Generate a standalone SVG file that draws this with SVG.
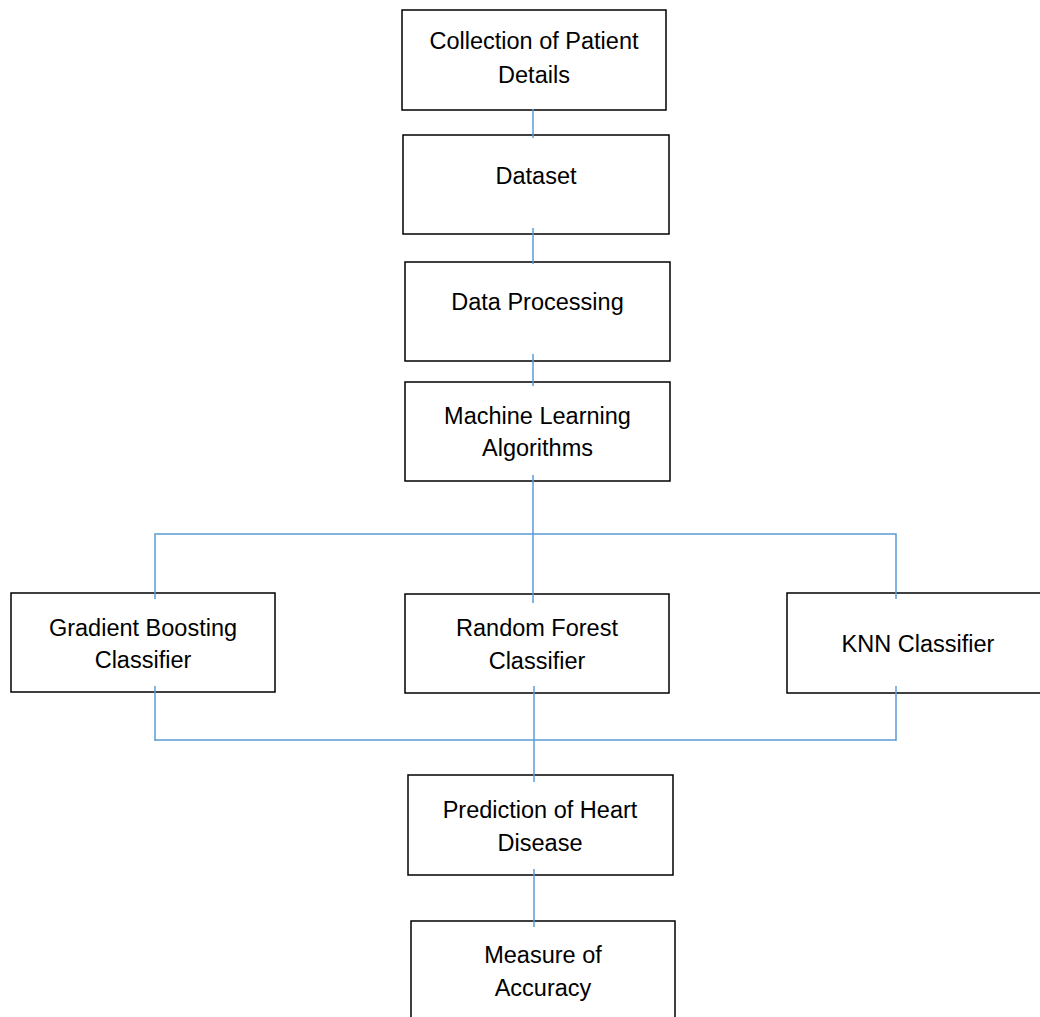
<svg xmlns="http://www.w3.org/2000/svg" width="1040" height="1017" viewBox="0 0 1040 1017">
<style>
.box{fill:#fff;stroke:#000;stroke-width:1.5}
.t{font-family:"Liberation Sans",Arial,sans-serif;font-size:23.5px;fill:#000;text-anchor:middle}
.c{fill:none;stroke:#5B9BD5;stroke-width:1.5}
</style>
<rect width="1040" height="1017" fill="#fff"/>
<g id="n1"><rect class="box" x="402" y="10" width="264" height="100"/>
<text class="t" x="534" y="49">Collection of Patient</text><text class="t" x="534" y="83">Details</text></g>
<g id="n2"><rect class="box" x="403" y="135" width="266" height="99"/>
<text class="t" x="536" y="184">Dataset</text></g>
<g id="n3"><rect class="box" x="405" y="262" width="265" height="99"/>
<text class="t" x="537.5" y="310">Data Processing</text></g>
<g id="n4"><rect class="box" x="405" y="382" width="265" height="99"/>
<text class="t" x="537.5" y="424">Machine Learning</text><text class="t" x="537.5" y="456">Algorithms</text></g>
<g id="n5"><rect class="box" x="11" y="593" width="264" height="99"/>
<text class="t" x="143" y="636">Gradient Boosting</text><text class="t" x="143" y="668">Classifier</text></g>
<g id="n6"><rect class="box" x="405" y="594" width="264" height="99"/>
<text class="t" x="537" y="636">Random Forest</text><text class="t" x="537" y="669">Classifier</text></g>
<g id="n7"><rect class="box" x="787" y="593" width="262" height="100"/>
<text class="t" x="918" y="652">KNN Classifier</text></g>
<g id="n8"><rect class="box" x="408" y="775" width="265" height="100"/>
<text class="t" x="540" y="818">Prediction of Heart</text><text class="t" x="540" y="851">Disease</text></g>
<g id="n9"><rect class="box" x="411" y="921" width="264" height="100"/>
<text class="t" x="543" y="963">Measure of</text><text class="t" x="543" y="996">Accuracy</text></g>
<g id="connectors">
<line class="c" x1="533" y1="109" x2="533" y2="138"/>
<line class="c" x1="533" y1="228" x2="533" y2="264"/>
<line class="c" x1="533" y1="354" x2="533" y2="386"/>
<line class="c" x1="533" y1="475" x2="533" y2="603"/>
<polyline class="c" points="155,599 155,534 896,534 896,599"/>
<line class="c" x1="155" y1="686" x2="155" y2="741"/>
<line class="c" x1="534" y1="686" x2="534" y2="782"/>
<line class="c" x1="896" y1="686" x2="896" y2="741"/>
<line class="c" x1="155" y1="740" x2="896" y2="740"/>
<line class="c" x1="534" y1="869" x2="534" y2="927"/>
</g>
</svg>
